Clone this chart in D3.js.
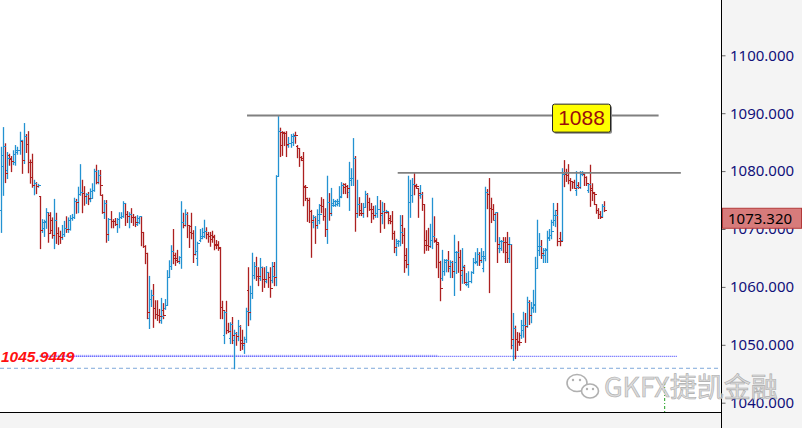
<!DOCTYPE html>
<html>
<head>
<meta charset="utf-8">
<script src="https://cdn.jsdelivr.net/npm/d3@7"></script>
<style>
  body { margin: 0; background: #fff; }
  svg { display: block; }
</style>
</head>
<body>
<svg id="chart"></svg>
<script>
// price bars left to right
var openPrices = [
  1073.3,1080.9,1084.3,1080.2,1082.8,1082.3,1081.7,1081.6,1083.3,1083.6,1085.2,1081.9,1086.1,1084.7,1081.6,1081.6,1077.6,1077.9,1077.4,1075.7,1069.8,1070.2,1071.2,1072.9,1072.4,1071.5,1069.0,1071.6,1069.3,1068.8,1068.6,1069.1,1070.2,1070.0,1070.0,1071.9,1072.1,1074.8,1074.7,1076.0,1076.4,1076.3,1075.7,1076.0,1075.2,1075.4,1076.7,1080.0,1078.1,1079.3,
  1075.9,1072.9,1074.5,1069.1,1071.7,1071.4,1071.3,1070.9,1071.7,1072.1,1072.2,1074.5,1072.6,1072.2,1072.6,1072.1,1072.0,1070.9,1071.2,1072.2,1069.5,1067.1,1065.9,1054.6,1057.9,1058.6,1056.4,1055.3,1055.1,1054.3,1056.0,1056.4,1056.9,1061.7,1063.6,1066.2,1065.5,1065.0,1064.5,1065.2,1071.2,1070.7,1072.6,1070.7,1070.5,1069.3,1065.7,
  1065.0,1068.1,1068.4,1068.8,1069.7,1069.1,1068.8,1068.9,1068.8,1067.4,1067.4,1066.7,1056.5,1051.7,1055.7,1052.6,1051.2,1053.6,1050.8,1052.0,1051.5,1053.2,1050.8,1050.0,1051.0,1059.5,1055.7,1058.9,1062.1,1063.6,1061.9,1061.5,1063.4,1061.4,1061.0,1062.6,1061.7,1061.2,1063.6,1061.7,1079.2,1086.9,1086.7,1086.7,1086.6,1084.5,1084.9,1085.0,1086.3,1084.3,1084.0,1082.4,
  1081.9,1077.4,1075.4,1075.0,1073.1,1071.2,1072.1,1070.7,1071.6,1074.1,1074.0,1072.2,1070.0,1074.7,1072.8,1074.1,1074.2,1074.3,1074.5,1075.7,1077.6,1077.8,1077.4,1076.4,1078.5,1078.8,1082.3,1072.8,1074.3,1073.3,1072.8,1073.8,1076.0,1074.7,1073.5,1073.4,1072.4,1072.8,1073.5,1072.4,1073.1,1072.9,1072.9,1071.9,1071.4,1069.3,1066.9,1067.6,1067.9,
  1070.7,1069.0,1065.5,1064.0,1074.7,1075.9,1077.8,1077.6,1077.1,1075.9,1076.0,1074.3,1068.1,1067.2,1067.1,1068.1,1068.8,1068.1,1067.4,1064.3,1061.5,1062.7,1064.3,1064.6,1063.3,1064.3,1062.7,1064.3,1066.0,1065.2,1062.1,1063.4,1060.5,1060.5,1061.0,1062.6,1064.3,1064.3,1065.7,1064.6,1063.3,1065.0,1076.4,1076.0,1073.6,1073.5,1071.6,1072.9,
  1066.7,1066.7,1067.9,1067.8,1067.8,1065.0,1067.4,1050.0,1052.9,1051.0,1050.7,1051.7,1052.6,1053.4,1053.2,1057.4,1055.1,1056.4,1056.9,1063.3,1066.4,1067.1,1065.5,1065.5,1066.4,1068.4,1069.0,1071.2,1071.6,1073.3,1068.4,1068.1,1079.8,1079.8,1079.3,1078.5,1078.3,1078.1,1076.7,1077.6,1077.3,1079.5,1079.5,1079.0,1076.7,1077.8,1077.1,1076.2,1074.3,1073.3,1072.6,1072.2,1074.0
];
var highPrices = [
  1084.2,1087.6,1084.8,1083.3,1083.0,1082.6,1083.6,1084.5,1084.2,1086.8,1085.4,1088.3,1086.4,1086.9,1082.0,1083.0,1078.5,1078.1,1077.8,1075.7,1071.7,1071.6,1073.6,1072.9,1072.9,1072.0,1075.2,1072.8,1070.3,1069.7,1070.7,1071.4,1072.2,1072.0,1072.4,1072.6,1075.4,1075.2,1077.3,1081.2,1078.5,1077.4,1076.2,1076.4,1077.0,1077.9,1080.4,1081.1,1080.2,1080.2,
  1076.0,1075.0,1075.0,1071.9,1073.1,1071.7,1071.9,1071.9,1072.9,1072.9,1074.8,1074.5,1073.1,1072.9,1073.6,1072.6,1072.2,1072.4,1072.2,1072.2,1069.5,1067.2,1065.9,1061.9,1059.5,1060.5,1057.7,1057.7,1056.2,1058.1,1057.2,1057.9,1062.9,1064.6,1067.2,1070.0,1065.9,1066.4,1065.3,1074.8,1072.8,1073.4,1072.9,1070.7,1072.8,1069.8,1070.5,
  1067.8,1070.0,1070.2,1071.6,1070.3,1069.5,1069.5,1069.7,1069.0,1068.1,1067.9,1066.9,1057.6,1056.0,1057.6,1053.8,1053.9,1054.8,1052.6,1052.2,1054.3,1053.4,1052.6,1051.4,1056.4,1063.4,1060.2,1065.9,1064.3,1065.2,1063.4,1065.0,1063.5,1063.4,1063.6,1062.6,1063.4,1064.3,1064.3,1079.3,1089.5,1087.5,1086.9,1086.8,1086.9,1085.9,1086.4,1086.5,1086.8,1084.5,1084.0,1082.6,
  1083.3,1077.6,1075.4,1075.4,1073.3,1072.4,1072.2,1073.4,1074.3,1075.5,1075.2,1073.6,1079.2,1076.2,1077.1,1075.2,1075.0,1075.2,1077.4,1078.1,1077.9,1077.9,1077.6,1081.6,1080.5,1085.7,1082.6,1078.5,1075.5,1074.5,1074.5,1076.6,1076.2,1075.4,1074.5,1074.0,1074.1,1075.7,1075.0,1074.7,1074.5,1073.3,1072.9,1072.4,1073.1,1069.7,1068.3,1068.1,1072.4,
  1072.4,1070.2,1066.7,1079.2,1078.5,1078.8,1079.8,1077.8,1077.1,1077.6,1076.4,1074.3,1069.8,1070.2,1070.9,1075.4,1072.2,1068.4,1067.6,1064.5,1066.4,1064.8,1064.8,1066.2,1064.6,1064.5,1069.0,1066.2,1067.9,1066.4,1066.7,1063.8,1062.4,1062.7,1062.7,1065.0,1066.0,1066.7,1066.0,1066.7,1066.2,1077.3,1076.9,1078.8,1075.4,1074.3,1072.9,1072.9,
  1068.6,1068.1,1068.6,1068.6,1069.5,1068.6,1067.4,1055.5,1053.3,1052.2,1052.1,1054.3,1055.7,1055.5,1058.3,1057.7,1057.4,1059.5,1065.2,1071.6,1069.3,1068.1,1066.7,1066.7,1069.7,1070.0,1071.6,1074.5,1073.3,1074.5,1069.5,1080.5,1081.9,1080.4,1081.2,1078.8,1078.3,1078.5,1080.0,1078.1,1080.0,1080.0,1079.7,1079.1,1077.8,1081.1,1077.9,1076.4,1074.3,1073.6,1073.1,1074.3,1074.8
];
var lowPrices = [
  1069.5,1075.9,1078.1,1078.8,1081.1,1080.0,1081.2,1081.1,1083.0,1083.0,1079.7,1081.4,1083.3,1079.8,1078.0,1077.3,1076.0,1076.2,1077.3,1066.7,1069.5,1068.8,1070.2,1067.8,1069.3,1068.5,1066.7,1067.6,1067.4,1067.6,1068.3,1068.8,1069.5,1069.5,1069.9,1071.6,1071.9,1072.8,1072.9,1075.9,1072.9,1074.2,1074.5,1074.3,1074.8,1075.4,1076.6,1077.9,1077.9,1075.9,
  1072.8,1071.9,1067.8,1068.1,1070.3,1070.3,1070.7,1069.5,1070.3,1071.9,1072.1,1070.7,1071.2,1070.3,1071.2,1070.7,1070.5,1070.7,1071.0,1067.2,1066.9,1064.1,1054.6,1052.9,1056.7,1053.1,1054.6,1054.3,1053.9,1053.8,1054.6,1056.2,1056.9,1061.7,1063.1,1064.1,1063.8,1064.3,1064.1,1063.3,1070.3,1070.6,1068.6,1066.9,1068.4,1064.3,1065.6,
  1063.8,1067.9,1068.4,1068.6,1068.4,1067.8,1067.1,1067.8,1066.5,1066.7,1066.4,1054.6,1054.6,1050.3,1052.0,1052.2,1050.3,1050.3,1045.94,1050.0,1050.8,1049.1,1049.3,1048.6,1050.5,1053.4,1054.4,1058.1,1061.5,1061.2,1060.3,1061.2,1059.3,1060.0,1060.8,1060.0,1058.3,1060.8,1060.3,1060.3,1079.2,1082.6,1082.8,1084.5,1082.6,1084.2,1084.2,1084.5,1084.9,1082.4,1080.9,1081.9,
  1074.1,1075.0,1071.4,1071.2,1065.2,1070.3,1067.6,1070.2,1071.0,1072.9,1071.6,1068.8,1067.6,1071.6,1072.4,1074.0,1074.0,1074.1,1074.0,1075.5,1076.2,1076.2,1075.5,1073.3,1077.6,1077.6,1069.7,1072.1,1072.4,1072.4,1072.1,1073.8,1072.2,1073.3,1071.2,1071.8,1072.1,1072.1,1069.5,1071.0,1070.2,1072.8,1071.0,1071.0,1068.3,1066.0,1065.5,1067.1,1067.2,
  1067.6,1062.6,1063.4,1062.1,1072.1,1074.7,1076.0,1077.1,1072.1,1075.4,1073.3,1065.9,1066.4,1066.4,1066.9,1066.7,1067.8,1063.4,1061.7,1057.7,1061.2,1062.1,1062.7,1062.7,1061.7,1061.7,1058.6,1062.4,1062.6,1059.5,1060.7,1060.7,1060.3,1060.0,1060.8,1062.4,1064.1,1063.8,1063.8,1064.3,1062.7,1064.6,1073.6,1059.1,1071.2,1071.6,1067.9,1064.3,
  1066.0,1066.4,1066.0,1064.3,1064.3,1064.3,1049.4,1047.4,1047.7,1049.1,1050.0,1051.2,1051.4,1050.5,1053.1,1053.6,1053.9,1055.7,1055.7,1063.3,1065.5,1065.0,1064.3,1064.3,1064.3,1068.1,1068.4,1070.7,1070.5,1067.2,1067.2,1068.1,1077.4,1078.3,1077.9,1076.7,1077.1,1077.1,1075.9,1077.1,1077.1,1079.3,1077.6,1077.6,1076.4,1074.0,1075.0,1074.3,1072.8,1071.9,1071.9,1072.1,1073.1
];
var closePrices = [
  1082.8,1084.3,1079.7,1082.3,1082.1,1081.7,1083.0,1083.6,1083.6,1085.4,1081.9,1086.1,1084.7,1081.6,1079.0,1077.6,1077.9,1077.4,1077.6,1069.8,1071.2,1071.4,1072.9,1069.3,1069.8,1069.0,1071.6,1069.3,1068.8,1068.6,1069.1,1070.2,1070.0,1071.5,1071.9,1072.1,1074.8,1074.7,1076.0,1076.4,1076.3,1075.7,1076.0,1075.4,1076.5,1076.7,1080.0,1078.1,1079.3,1077.6,
  1072.9,1074.5,1069.1,1071.7,1071.4,1071.3,1070.9,1071.7,1072.1,1072.2,1074.5,1072.6,1072.2,1072.6,1072.1,1072.0,1071.2,1071.9,1072.2,1069.5,1067.1,1065.9,1055.7,1057.9,1058.6,1056.4,1055.3,1055.1,1055.0,1055.0,1055.1,1056.9,1061.7,1063.6,1066.2,1065.0,1064.6,1064.5,1065.2,1071.2,1070.7,1072.6,1070.7,1069.5,1069.3,1065.7,1066.2,
  1067.6,1068.8,1069.5,1069.7,1069.1,1068.8,1068.3,1068.7,1067.2,1067.2,1066.9,1056.5,1056.0,1055.7,1052.6,1052.4,1053.6,1051.7,1052.0,1051.5,1053.2,1050.3,1050.3,1051.0,1055.8,1055.7,1058.9,1062.1,1063.6,1061.9,1061.8,1063.4,1061.4,1061.3,1062.6,1061.7,1059.8,1061.9,1061.7,1079.2,1086.9,1084.5,1086.6,1086.5,1084.7,1084.9,1086.1,1086.0,1086.2,1084.0,1082.4,1082.3,
  1077.3,1077.2,1075.0,1073.1,1071.6,1072.1,1070.7,1072.6,1072.6,1074.0,1072.2,1070.0,1074.7,1072.8,1074.5,1074.8,1074.8,1074.9,1075.5,1077.6,1077.2,1077.5,1077.1,1078.8,1078.8,1082.3,1072.8,1074.3,1072.8,1072.8,1073.8,1076.0,1074.7,1073.5,1072.8,1072.5,1072.8,1073.5,1072.8,1073.1,1073.0,1073.1,1071.6,1071.4,1069.3,1066.9,1067.9,1067.9,1069.5,
  1069.0,1064.6,1064.0,1074.7,1075.9,1077.8,1077.4,1077.4,1076.2,1076.0,1074.3,1067.2,1067.2,1067.1,1068.1,1068.8,1067.9,1067.8,1064.3,1059.8,1062.7,1064.6,1064.6,1063.6,1064.3,1062.7,1066.0,1066.0,1065.2,1062.9,1063.6,1060.8,1060.8,1061.0,1062.6,1064.3,1064.5,1065.7,1064.6,1065.3,1065.3,1076.4,1076.0,1073.6,1073.5,1072.6,1072.9,1067.4,
  1067.9,1067.9,1067.8,1066.0,1067.4,1067.4,1051.0,1052.9,1051.0,1050.5,1050.5,1053.4,1053.4,1053.2,1057.4,1055.1,1056.5,1057.1,1063.3,1067.1,1067.1,1065.9,1066.4,1066.5,1068.6,1069.0,1069.7,1072.4,1072.4,1067.9,1067.9,1079.5,1079.5,1079.3,1078.5,1078.3,1078.1,1077.1,1077.3,1077.3,1079.5,1079.7,1079.0,1077.9,1077.8,1076.7,1076.4,1076.0,1073.3,1072.6,1072.1,1074.0,1073.32
];

var yTicks = [1040, 1050, 1060, 1070, 1080, 1090, 1100];
var lastPrice = 1073.32;

// drawn objects: bar index where they start / end, and price
var levelFrom = [121.5, 196];
var levelTo = [325, 336];
var levelPrice = [1089.6, 1079.7];
var noteText = '1088';
var noteAt = 272.3, noteTop = 1091.65;
var lowMark = 1045.9449;
var lowMarkText = '1045.9449';
var supportPrice = 1048.1;
var supportFrom = 19, supportMid = 215.9, supportTo = 334;
var markerAt = 328;
var watermark = 'GKFX捷凯金融';

var W = 802, H = 428;
var axisX = 721, axisY = 412;

var x = d3.scaleLinear().domain([0, openPrices.length - 1]).range([1.3, 604]);
var y = d3.scaleLinear().domain([1040, 1100]).range([402.7, 55.3]);

var svg = d3.select('#chart').attr('width', W).attr('height', H);

svg.append('rect').attr('width', W).attr('height', H).attr('fill', '#fff');
svg.append('rect')
  .attr('x', axisX).attr('y', 0)
  .attr('width', W - axisX).attr('height', H)
  .attr('fill', '#f4f4f4');
svg.append('rect')
  .attr('x', 0).attr('y', axisY)
  .attr('width', axisX).attr('height', H - axisY)
  .attr('fill', '#f4f4f4');

var plot = svg.append('g');

// low mark, dashed across the whole window
plot.append('line')
  .attr('x1', 0).attr('x2', axisX)
  .attr('y1', y(lowMark)).attr('y2', y(lowMark))
  .attr('stroke', '#7fa8da').attr('stroke-width', 1)
  .attr('stroke-dasharray', '4,3');

// support line, dotted
plot.append('line')
  .attr('x1', x(supportFrom)).attr('x2', x(supportMid))
  .attr('y1', y(supportPrice)).attr('y2', y(supportPrice))
  .attr('stroke', '#a0a0ff').attr('stroke-width', 2)
  .attr('stroke-dasharray', '1,1');
plot.append('line')
  .attr('x1', x(supportFrom)).attr('x2', x(supportTo))
  .attr('y1', y(supportPrice) + 0.5).attr('y2', y(supportPrice) + 0.5)
  .attr('stroke', '#2b2bff').attr('stroke-width', 1)
  .attr('stroke-dasharray', '1,1');

// bars
var bars = plot.append('g');
var idx = d3.range(openPrices.length);

function barColor(i) {
  return closePrices[i] >= openPrices[i] ? '#2392d2' : '#ac2020';
}
function bx(i) {
  return Math.round(x(i)) + 0.5;
}

bars.selectAll('line.hl')
  .data(idx)
  .enter()
  .append('line')
  .attr('class', 'hl')
  .attr('x1', bx).attr('x2', bx)
  .attr('y1', function (i) { return y(highPrices[i]); })
  .attr('y2', function (i) { return y(lowPrices[i]) + 1; })
  .attr('stroke', barColor)
  .attr('stroke-width', 1.3);

bars.selectAll('line.op')
  .data(idx)
  .enter()
  .append('line')
  .attr('class', 'op')
  .attr('shape-rendering', 'crispEdges')
  .attr('x1', function (i) { return bx(i) - 2; })
  .attr('x2', bx)
  .attr('y1', function (i) { return Math.round(y(openPrices[i])) + 0.5; })
  .attr('y2', function (i) { return Math.round(y(openPrices[i])) + 0.5; })
  .attr('stroke', barColor);

bars.selectAll('line.cl')
  .data(idx)
  .enter()
  .append('line')
  .attr('class', 'cl')
  .attr('shape-rendering', 'crispEdges')
  .attr('x1', bx)
  .attr('x2', function (i) { return bx(i) + 2; })
  .attr('y1', function (i) { return Math.round(y(closePrices[i])) + 0.5; })
  .attr('y2', function (i) { return Math.round(y(closePrices[i])) + 0.5; })
  .attr('stroke', barColor);

// horizontal levels
plot.selectAll('line.level')
  .data(levelPrice)
  .enter()
  .append('line')
  .attr('class', 'level')
  .attr('x1', function (d, i) { return x(levelFrom[i]); })
  .attr('x2', function (d, i) { return x(levelTo[i]); })
  .attr('y1', function (d) { return y(d); })
  .attr('y2', function (d) { return y(d); })
  .attr('stroke', '#808080').attr('stroke-width', 1.8);

// note box
var nx = x(noteAt), ny = y(noteTop);
plot.append('rect')
  .attr('x', nx + 2).attr('y', ny + 2)
  .attr('width', 58).attr('height', 28).attr('rx', 2)
  .attr('fill', '#8c8c8c');
plot.append('rect')
  .attr('x', nx + 0.5).attr('y', ny + 0.5)
  .attr('width', 58).attr('height', 28).attr('rx', 2)
  .attr('fill', '#ffff00').attr('stroke', '#222').attr('stroke-width', 1);
plot.append('text')
  .attr('x', nx + 29.5).attr('y', ny + 21.5)
  .attr('text-anchor', 'middle')
  .attr('font-family', 'Liberation Sans, Arial, sans-serif')
  .attr('font-size', 21)
  .attr('fill', '#9a0c0c')
  .text(noteText);

// low mark label
plot.append('text')
  .attr('x', 1).attr('y', y(lowMark) - 6)
  .attr('font-family', 'Liberation Sans, Arial, sans-serif')
  .attr('font-size', 15.5)
  .attr('font-weight', 'bold')
  .attr('font-style', 'italic')
  .attr('fill', '#ff1010')
  .text(lowMarkText);

// small green marker at the bottom
plot.append('line')
  .attr('x1', x(markerAt)).attr('x2', x(markerAt))
  .attr('y1', 382).attr('y2', axisY)
  .attr('stroke', '#22a022').attr('stroke-width', 1)
  .attr('stroke-dasharray', '3,2,1,2');

// price axis
var axis = d3.axisRight(y)
  .tickValues(yTicks)
  .tickFormat(d3.format('.3f'))
  .tickSize(4)
  .tickPadding(4.5);

var ag = svg.append('g')
  .attr('transform', 'translate(' + (axisX + 0.5) + ',0)')
  .call(axis);
ag.select('.domain').remove();
ag.selectAll('.tick line').attr('stroke', '#666');
ag.selectAll('.tick text')
  .attr('fill', '#10107a')
  .style('font-family', 'Noto Sans, Liberation Sans, sans-serif')
  .style('font-size', '15px');

// current price box
var py = y(lastPrice);
svg.append('rect')
  .attr('x', axisX + 1.5).attr('y', py - 1.5)
  .attr('width', 79).attr('height', 20)
  .attr('fill', '#d77b7b').attr('stroke', '#b33a3a').attr('stroke-width', 1);
svg.append('text')
  .attr('x', axisX + 7).attr('y', py + 14)
  .attr('font-family', 'Noto Sans, Liberation Sans, sans-serif')
  .attr('font-size', 15)
  .attr('fill', '#000')
  .text(d3.format('.3f')(lastPrice));

// frame
svg.append('line')
  .attr('x1', axisX + 0.5).attr('x2', axisX + 0.5)
  .attr('y1', 0).attr('y2', H)
  .attr('stroke', '#000');
svg.append('line')
  .attr('x1', 0).attr('x2', axisX)
  .attr('y1', axisY + 0.5).attr('y2', axisY + 0.5)
  .attr('stroke', '#000');

// watermark
var wm = svg.append('g').attr('opacity', 0.9);
wm.append('ellipse')
  .attr('cx', 577).attr('cy', 383).attr('rx', 10).attr('ry', 8.5)
  .attr('fill', '#fff').attr('stroke', '#a8a8a8').attr('stroke-width', 1.6);
wm.append('ellipse')
  .attr('cx', 590).attr('cy', 391).attr('rx', 8.5).attr('ry', 7)
  .attr('fill', '#fff').attr('stroke', '#a8a8a8').attr('stroke-width', 1.6);
wm.selectAll('circle')
  .data([[573, 380], [580, 380], [587, 389], [593, 389]])
  .enter()
  .append('circle')
  .attr('cx', function (d) { return d[0]; })
  .attr('cy', function (d) { return d[1]; })
  .attr('r', 1.2)
  .attr('fill', '#a8a8a8');
wm.append('text')
  .attr('x', 604).attr('y', 397)
  .attr('font-family', 'Noto Sans CJK SC, sans-serif')
  .attr('font-size', 27)
  .attr('fill', '#dadada')
  .attr('stroke', '#a4a4a4').attr('stroke-width', 0.6)
  .text(watermark);
</script>
</body>
</html>
